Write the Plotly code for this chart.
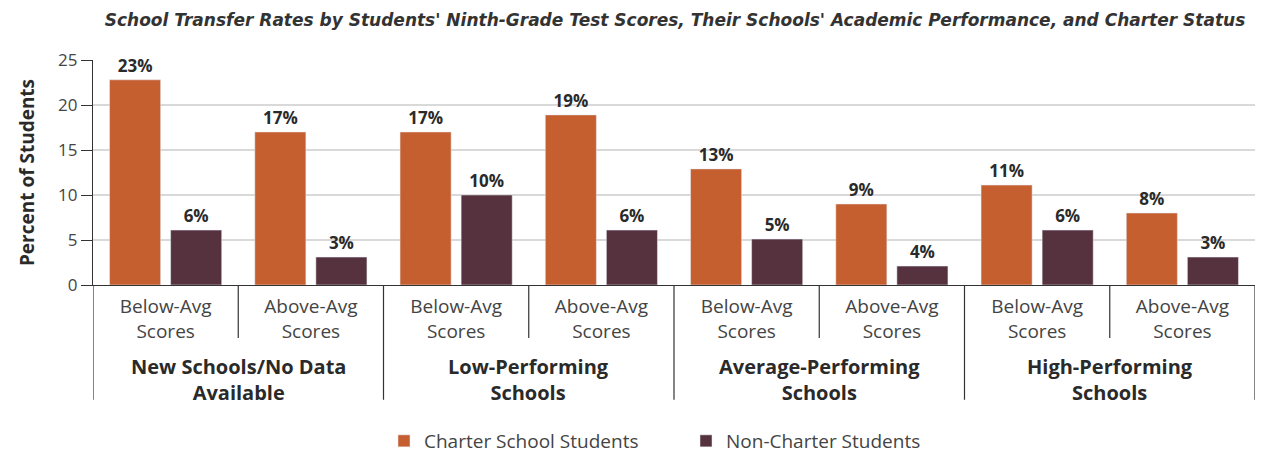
import plotly.graph_objects as go

groups = ["New Schools/No Data<br>Available", "Low-Performing<br>Schools",
          "Average-Performing<br>Schools", "High-Performing<br>Schools"]
subcats = ["Below-Avg<br>Scores", "Above-Avg<br>Scores"] * 4
charter = [22.8, 17, 17, 18.9, 12.9, 9, 11.1, 8]
noncharter = [6.1, 3.1, 10, 6.1, 5.1, 2.1, 6.1, 3.1]
charter_labels = ["23%", "17%", "17%", "19%", "13%", "9%", "11%", "8%"]
noncharter_labels = ["6%", "3%", "10%", "6%", "5%", "4%", "6%", "3%"]

FONT = "Open Sans"
ORANGE = "#C65F30"
MAROON = "#55323D"
xs = list(range(len(subcats)))

# page body has an 8px margin, so the figure is 8px smaller than the window
W, H = 1259, 447

fig = go.Figure()
for vals, labs, name, col in [(charter, charter_labels, "Charter School Students", ORANGE),
                              (noncharter, noncharter_labels, "Non-Charter Students", MAROON)]:
    fig.add_trace(go.Bar(x=xs, y=vals, name=name, marker_color=col,
                         text=labs, textposition="outside", cliponaxis=False,
                         constraintext="none",
                         textfont=dict(family=FONT, size=17, color="#2a2a2a", weight="bold")))

shapes = []
for i in range(len(subcats) + 1):
    b = i - 0.5
    major = (i % 2 == 0)
    shapes.append(dict(type="line", xref="x", yref="paper", x0=b, x1=b, y0=0,
                       y1=-0.51 if major else -0.235, line=dict(color="#333", width=1.2)))

annotations = []
for g, name in enumerate(groups):
    annotations.append(dict(x=2 * g + 0.5, xref="x", y=-0.418, yref="paper", text=name,
                            showarrow=False, yanchor="middle",
                            font=dict(family=FONT, size=20, color="#2a2a2a", weight="bold")))

fig.update_layout(
    width=W, height=H,
    margin=dict(l=85, r=12, t=52, b=170),
    paper_bgcolor="white", plot_bgcolor="white",
    barmode="group", bargap=0.159, bargroupgap=0.164,
    title=dict(text="School Transfer Rates by Students' Ninth-Grade Test Scores, Their Schools' Academic Performance, and Charter Status",
               x=(675 - 8) / W, xanchor="center", xref="container", y=1 - 12 / H, yanchor="middle",
               font=dict(family="DejaVu Sans", size=17, color="#333", style="italic", weight="bold")),
    xaxis=dict(range=[-0.5, 7.5], tickvals=xs, ticktext=subcats, showline=True,
               linecolor="#333", linewidth=1.2, ticks="", showgrid=False, zeroline=False,
               tickfont=dict(family=FONT, size=19, color="#444"), ticklabelstandoff=4),
    yaxis=dict(range=[0, 25], tickvals=[0, 5, 10, 15, 20, 25], showline=True, linecolor="#333",
               linewidth=1.2, ticks="outside", ticklen=11, tickcolor="#333", showgrid=True,
               gridcolor="#d9d9d9", gridwidth=1.5, zeroline=False,
               tickfont=dict(family=FONT, size=17, color="#444"),
               title=dict(text="Percent of Students", standoff=18,
                          font=dict(family=FONT, size=19, color="#2a2a2a", weight="bold"))),
    legend=dict(orientation="h", xref="container", x=(384 - 8) / W, xanchor="left",
                yref="container", y=1 - (441 - 8) / H, yanchor="middle",
                font=dict(family=FONT, size=19, color="#444"), itemwidth=30,
                traceorder="normal", entrywidthmode="pixels", entrywidth=257),
    shapes=shapes, annotations=annotations,
)

fig.write_html("out.html")
